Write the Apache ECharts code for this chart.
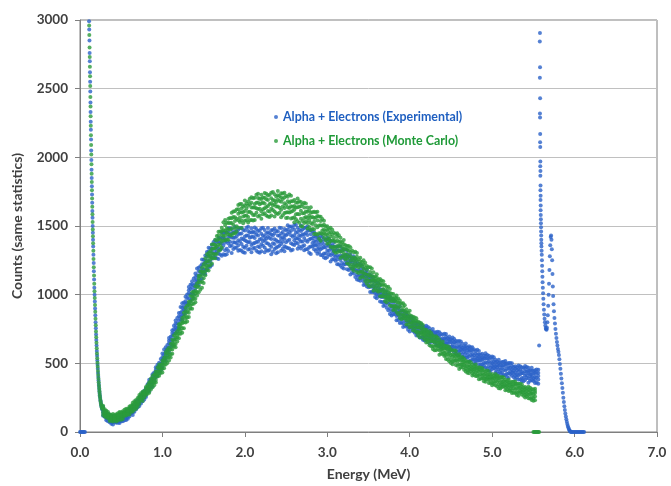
<!DOCTYPE html>
<html>
<head>
<meta charset="utf-8">
<script src="https://cdn.jsdelivr.net/npm/echarts@6/dist/echarts.min.js"></script>
<style>
html,body{margin:0;padding:0;background:#fff;}
#chart{width:671px;height:486px;}
</style>
</head>
<body>
<div id="chart"></div>
<script>
// ---- Data ----
const seriesNames = ['Alpha + Electrons (Experimental)', 'Alpha + Electrons (Monte Carlo)'];
const xTickLabels = ['0.0','1.0','2.0','3.0','4.0','5.0','6.0','7.0'];
const yTickLabels = ['0','500','1000','1500','2000','2500','3000'];

// Experimental: low-energy electron spike [MeV, counts]
const expSpike = [[0.110,2990],[0.112,2930],[0.115,2850],[0.117,2760],[0.119,2700],[0.121,2620],[0.123,2550],[0.125,2480],[0.127,2400],[0.128,2330],[0.130,2260],[0.132,2200],[0.134,2130],[0.136,2050],[0.138,1980],[0.140,1910],[0.142,1850],[0.144,1790],[0.146,1730],[0.148,1670],[0.150,1610],[0.152,1560],[0.154,1500],[0.156,1450],[0.158,1400],[0.160,1350],[0.163,1290],[0.166,1230],[0.168,1170],[0.171,1110],[0.174,1050],[0.177,1000],[0.180,950],[0.183,900],[0.186,850],[0.189,800],[0.192,755],[0.195,710],[0.198,670],[0.201,630],[0.204,590],[0.207,555],[0.210,520],[0.213,490],[0.216,460],[0.219,430],[0.222,400],[0.225,375],[0.228,350],[0.231,328],[0.234,306],[0.237,286],[0.240,268],[0.244,250],[0.248,232],[0.252,215],[0.256,200],[0.260,187],[0.265,175],[0.270,164]];

// Experimental: main band, each row = [MeV, counts...]
const expBand = [
[0.28,119,138,153,167,183],[0.32,97,115,139,85,124],[0.36,116,71,89,105,126],[0.40,72,91,54,112,101],[0.44,90,67,104,79,116],[0.48,66,106,91,116,79],
[0.52,78,95,108,120,133],[0.56,100,118,142,88,127],[0.60,157,112,130,146,167],[0.64,144,167,123,191,179],[0.68,193,165,209,179,223],[0.72,189,236,219,248,205],
[0.76,224,243,258,272,288],[0.80,269,290,318,255,300],[0.84,364,297,324,349,380],[0.88,360,389,333,420,405],[0.92,434,398,454,416,472],[0.96,427,488,466,504,448],
[1.00,470,501,525,547,572],[1.04,540,573,617,518,589],[1.08,665,583,616,646,685],[1.12,665,701,632,740,720],[1.16,765,721,790,743,812],[1.20,755,843,811,866,785],
[1.24,817,852,881,907,937],[1.28,894,933,985,868,952],[1.32,1032,935,974,1010,1055],[1.36,1011,1053,972,1098,1076],[1.40,1100,1048,1129,1074,1155],[1.44,1069,1170,1133,1196,1103],
[1.48,1117,1159,1192,1222,1256],[1.52,1180,1225,1285,1150,1247],[1.56,1314,1202,1247,1288,1341],[1.60,1261,1310,1216,1363,1336],[1.64,1333,1273,1367,1303,1397],[1.68,1260,1381,1336,1413,1300],
[1.72,1284,1334,1374,1410,1450],[1.76,1324,1378,1450,1288,1405],[1.80,1453,1318,1372,1421,1484],[1.84,1358,1416,1304,1479,1448],[1.88,1415,1344,1456,1380,1492],[1.92,1320,1441,1396,1473,1360],
[1.96,1319,1369,1409,1445,1485],[2.00,1342,1396,1468,1306,1423],[2.04,1463,1328,1382,1431,1494],[2.08,1362,1420,1308,1483,1452],[2.12,1412,1341,1453,1377,1489],[2.16,1310,1431,1386,1463,1350],
[2.20,1317,1367,1407,1443,1483],[2.24,1344,1398,1470,1308,1425],[2.28,1454,1319,1373,1422,1485],[2.32,1348,1406,1294,1469,1438],[2.36,1404,1333,1445,1369,1481],[2.40,1309,1430,1385,1462,1349],
[2.44,1319,1369,1409,1445,1485],[2.48,1353,1407,1479,1317,1434],[2.52,1474,1339,1393,1442,1505],[2.56,1375,1433,1321,1496,1465],[2.60,1432,1361,1473,1397,1509],[2.64,1335,1456,1411,1488,1375],
[2.68,1337,1387,1427,1463,1503],[2.72,1359,1413,1485,1323,1440],[2.76,1466,1331,1385,1434,1497],[2.80,1350,1408,1296,1471,1440],[2.84,1391,1331,1425,1361,1455],[2.88,1298,1399,1362,1425,1332],
[2.92,1289,1331,1364,1394,1428],[2.96,1300,1345,1405,1270,1367],[3.00,1387,1275,1320,1361,1414],[3.04,1287,1336,1242,1389,1362],[3.08,1318,1258,1352,1288,1382],[3.12,1222,1323,1286,1349,1256],
[3.16,1211,1253,1286,1316,1350],[3.20,1220,1265,1325,1190,1287],[3.24,1297,1185,1230,1271,1324],[3.28,1191,1240,1146,1293,1266],[3.32,1215,1155,1249,1185,1279],[3.36,1111,1212,1175,1238,1145],
[3.40,1102,1137,1166,1192,1222],[3.44,1097,1136,1188,1071,1155],[3.48,1157,1060,1099,1135,1180],[3.52,1058,1100,1019,1145,1123],[3.56,1071,1019,1100,1045,1126],[3.60,973,1061,1029,1084,1003],
[3.64,951,986,1015,1041,1071],[3.68,944,983,1035,918,1002],[3.72,1001,904,943,979,1024],[3.76,899,941,860,986,964],[3.80,910,858,939,884,965],[3.84,814,902,870,925,844],
[3.88,794,829,858,884,914],[3.92,791,830,882,765,849],[3.96,848,766,799,829,868],[4.00,765,801,732,840,820],[4.04,780,736,805,758,827],[4.08,702,776,749,795,727],
[4.12,689,720,744,766,791],[4.16,694,727,771,672,743],[4.20,753,671,704,734,773],[4.24,680,716,647,755,735],[4.28,703,659,728,681,750],[4.32,633,707,680,726,658],
[4.36,625,656,680,702,727],[4.40,632,665,709,610,681],[4.44,693,611,644,674,713],[4.48,620,656,587,695,675],[4.52,642,598,667,620,689],[4.56,570,644,617,663,595],
[4.60,560,591,615,637,662],[4.64,565,598,642,543,614],[4.68,624,542,575,605,644],[4.72,549,585,516,624,604],[4.76,570,526,595,548,617],[4.80,498,572,545,591,523],
[4.84,488,519,543,565,590],[4.88,493,526,570,471,542],[4.92,553,471,504,534,573],[4.96,480,516,447,555,535],[5.00,503,459,528,481,550],[5.04,433,507,480,526,458],
[5.08,425,456,480,502,527],[5.12,433,466,510,411,482],[5.16,497,415,448,478,517],[5.20,427,463,394,502,482],[5.24,453,409,478,431,500],[5.28,386,460,433,479,411],
[5.32,382,413,437,459,484],[5.36,394,427,471,372,443],[5.40,460,378,411,441,480],[5.44,392,428,359,467,447],[5.48,421,377,446,399,468],[5.52,356,430,403,449,381],
[5.56,352,383,407,429,454]
];
// Experimental: band channels in between
const expBand2 = [
[0.30,111,140,152,123],[0.34,132,100,79,119],[0.38,73,114,92,60],[0.42,96,71,115,82],[0.46,84,108,67,95],[0.50,79,108,120,91],
[0.54,139,107,86,126],[0.58,110,151,129,97],[0.62,159,134,178,145],[0.66,167,195,148,179],[0.70,180,214,228,194],[0.74,270,233,208,254],
[0.78,253,300,274,237],[0.82,324,296,347,308],[0.86,347,383,322,363],[0.90,372,415,433,390],[0.94,489,441,410,468],[0.98,470,531,497,450],
[1.02,565,521,601,540],[1.06,589,633,559,608],[1.10,619,672,694,641],[1.14,773,715,676,748],[1.18,757,831,790,732],[1.22,869,817,911,839],
[1.26,891,943,855,914],[1.30,914,976,1002,940],[1.34,1072,1003,958,1042],[1.38,1029,1117,1068,1000],[1.42,1141,1081,1190,1107],[1.46,1147,1207,1106,1173],
[1.50,1152,1224,1254,1182],[1.54,1311,1232,1179,1277],[1.58,1237,1338,1282,1203],[1.62,1334,1274,1383,1300],[1.66,1315,1387,1265,1347],[1.70,1292,1378,1414,1328],
[1.74,1452,1357,1294,1412],[1.78,1334,1456,1389,1294],[1.82,1426,1353,1484,1385],[1.86,1382,1454,1332,1414],[1.90,1340,1426,1462,1376],[1.94,1483,1388,1325,1443],
[1.98,1348,1470,1403,1308],[2.02,1430,1357,1488,1389],[2.06,1383,1455,1333,1415],[2.10,1337,1423,1459,1373],[2.14,1478,1383,1320,1438],[2.18,1346,1468,1401,1306],
[2.22,1430,1357,1488,1389],[2.26,1376,1448,1326,1408],[2.30,1326,1412,1448,1362],[2.34,1470,1375,1312,1430],[2.38,1342,1464,1397,1302],[2.42,1429,1356,1487,1388],
[2.46,1385,1457,1335,1417],[2.50,1346,1432,1468,1382],[2.54,1494,1399,1336,1454],[2.58,1367,1489,1422,1327],[2.62,1451,1378,1509,1410],[2.66,1401,1473,1351,1433],
[2.70,1352,1438,1474,1388],[2.74,1489,1394,1331,1449],[2.78,1346,1468,1401,1306],[2.82,1411,1351,1460,1377],[2.86,1359,1419,1318,1385],[2.90,1310,1382,1412,1340],
[2.94,1419,1340,1287,1385],[2.98,1299,1400,1344,1265],[3.02,1354,1294,1403,1320],[3.06,1299,1359,1258,1325],[3.10,1247,1319,1349,1277],[3.14,1354,1275,1222,1320],
[3.18,1231,1332,1276,1197],[3.22,1281,1221,1330,1247],[3.26,1220,1280,1179,1246],[3.30,1162,1234,1264,1192],[3.34,1261,1182,1129,1227],[3.38,1135,1223,1174,1106],
[3.42,1171,1119,1213,1141],[3.46,1111,1163,1075,1134],[3.50,1054,1116,1142,1080],[3.54,1133,1064,1019,1103],[3.58,1012,1100,1051,983],[3.62,1045,993,1087,1015],
[3.66,983,1035,947,1006],[3.70,924,986,1012,950],[3.74,1001,932,887,971],[3.78,878,966,917,849],[3.82,911,859,953,881],[3.86,851,903,815,874],
[3.90,795,857,883,821],[3.94,870,812,773,845],[3.98,770,844,803,745],[4.02,800,756,836,775],[4.06,752,796,722,771],[4.10,708,761,783,730],
[4.14,783,725,686,758],[4.18,691,765,724,666],[4.22,729,685,765,704],[4.26,689,733,659,708],[4.30,651,704,726,673],[4.34,730,672,633,705],
[4.38,640,714,673,615],[4.42,679,635,715,654],[4.46,639,683,609,658],[4.50,601,654,676,623],[4.54,678,620,581,653],[4.58,586,660,619,561],
[4.62,623,579,659,598],[4.66,581,625,551,600],[4.70,541,594,616,563],[4.74,618,560,521,593],[4.78,526,600,559,501],[4.82,563,519,599,538],
[4.86,521,565,491,540],[4.90,481,534,556,503],[4.94,560,502,463,535],[4.98,470,544,503,445],[5.02,509,465,545,484],[5.06,469,513,439,488],
[5.10,431,484,506,453],[5.14,512,454,415,487],[5.18,425,499,458,400],[5.22,467,423,503,442],[5.26,430,474,400,449],[5.30,396,449,471,418],
[5.34,479,421,382,454],[5.38,394,468,427,369],[5.42,438,394,474,413],[5.46,404,448,374,423],[5.50,371,424,446,393],[5.54,455,397,358,430]
];

// Experimental: alpha peak region [MeV, counts]
const expAlpha = [[5.570,630],[5.580,2905],[5.578,2843],[5.581,2656],[5.579,2580],[5.582,2430],[5.580,2320],[5.581,2290],[5.583,2170],[5.582,2110],[5.584,2075],[5.585,1970],[5.584,1935],[5.586,1900],[5.585,1865],[5.587,1795],[5.586,1760],[5.588,1720],[5.587,1690],[5.589,1650],[5.588,1615],[5.590,1580],[5.591,1550],[5.592,1520],[5.593,1490],[5.594,1460],[5.595,1430],[5.596,1400],[5.597,1375],[5.598,1350],[5.600,1320],[5.602,1290],[5.604,1250],[5.606,1210],[5.608,1170],[5.610,1130],[5.612,1090],[5.615,1050],[5.618,1010],[5.621,970],[5.624,930],[5.628,890],[5.632,855],[5.636,825],[5.640,800],[5.645,775],[5.650,757],[5.655,748],[5.660,745],[5.665,760],[5.670,800],[5.675,850],[5.680,920],[5.685,1000],[5.690,1080],[5.695,1180],[5.700,1280],[5.705,1360],[5.710,1420],[5.715,1430],[5.720,1400],[5.724,1330],[5.728,1250],[5.732,1150],[5.736,1060],[5.740,990],[5.745,930],[5.750,880],[5.756,830],[5.762,790],[5.768,750],[5.774,715],[5.780,685],[5.786,655],[5.792,630],[5.798,605],[5.804,585],[5.810,560],[5.816,530],[5.822,495],[5.828,460],[5.834,425],[5.840,390],[5.846,355],[5.852,320],[5.858,285],[5.864,250],[5.870,218],[5.876,188],[5.882,160],[5.888,135],[5.894,112],[5.900,92],[5.906,74],[5.912,58],[5.918,44],[5.924,32],[5.930,22],[5.936,14],[5.942,8],[5.948,4],[5.954,2]];

// Experimental: empty channels (counts = 0), energies in MeV
const expZeroEnergy = [0.000,0.010,0.020,0.030,0.040,0.050,0.060,5.960,5.972,5.984,5.996,6.008,6.020,6.032,6.044,6.056,6.068,6.080,6.092,6.104,6.116];

// Monte Carlo: low-energy electron spike [MeV, counts]
const mcSpike = [[0.111,2960],[0.113,2890],[0.116,2800],[0.118,2730],[0.120,2660],[0.122,2590],[0.124,2520],[0.126,2440],[0.128,2370],[0.129,2300],[0.131,2230],[0.133,2160],[0.135,2090],[0.137,2020],[0.139,1950],[0.141,1880],[0.143,1820],[0.145,1760],[0.147,1700],[0.149,1640],[0.151,1585],[0.153,1530],[0.155,1475],[0.157,1425],[0.159,1375],[0.162,1320],[0.164,1260],[0.167,1200],[0.170,1140],[0.173,1080],[0.176,1025],[0.179,975],[0.182,925],[0.185,875],[0.188,825],[0.191,778],[0.194,732],[0.197,690],[0.200,650],[0.203,610],[0.206,572],[0.209,537],[0.212,505],[0.215,475],[0.218,445],[0.221,415],[0.224,388],[0.227,362],[0.230,339],[0.233,317],[0.236,296],[0.239,277],[0.242,259],[0.246,241],[0.250,224],[0.254,208],[0.258,194],[0.263,181],[0.268,170]];

// Monte Carlo: main band, each row = [MeV, counts...]
const mcBand = [
[0.28,144,167,123,191,179],[0.32,129,106,143,118,155],[0.36,80,120,105,130,93],[0.40,76,93,106,118,131],[0.44,88,106,130,76,115],[0.48,136,91,109,125,146],
[0.52,112,131,94,152,141],[0.56,143,120,157,132,169],[0.60,127,174,157,186,143],[0.64,149,168,183,197,213],[0.68,184,205,233,170,215],[0.72,257,205,226,245,270],
[0.76,246,269,225,293,281],[0.80,298,270,314,284,328],[0.84,286,347,325,363,307],[0.88,325,349,369,387,408],[0.92,378,405,441,360,418],[0.96,476,409,436,461,492],
[1.00,460,489,433,520,505],[1.04,535,491,560,513,582],[1.08,521,595,568,614,546],[1.12,570,601,625,647,672],[1.16,640,673,717,618,689],[1.20,765,683,716,746,785],
[1.24,755,791,722,830,810],[1.28,850,798,879,824,905],[1.32,838,926,894,949,868],[1.36,897,932,961,987,1017],[1.40,971,1010,1062,945,1029],[1.44,1115,1018,1057,1093,1138],
[1.48,1096,1145,1051,1198,1171],[1.52,1201,1141,1235,1171,1265],[1.56,1176,1277,1240,1303,1210],[1.60,1227,1269,1302,1332,1366],[1.64,1295,1340,1400,1265,1362],[1.68,1432,1320,1365,1406,1459],
[1.72,1386,1435,1341,1488,1461],[1.76,1466,1395,1507,1431,1543],[1.80,1400,1521,1476,1553,1440],[1.84,1431,1481,1521,1557,1597],[1.88,1482,1536,1608,1446,1563],[1.92,1622,1487,1541,1590,1653],
[1.96,1540,1598,1486,1661,1630],[2.00,1609,1538,1650,1574,1686],[2.04,1526,1647,1602,1679,1566],[2.08,1544,1594,1634,1670,1710],[2.12,1580,1634,1706,1544,1661],[2.16,1704,1569,1623,1672,1735],
[2.20,1607,1665,1553,1728,1697],[2.24,1664,1593,1705,1629,1741],[2.28,1569,1690,1645,1722,1609],[2.32,1576,1626,1666,1702,1742],[2.36,1605,1659,1731,1569,1686],[2.40,1723,1588,1642,1691,1754],
[2.44,1618,1676,1564,1739,1708],[2.48,1666,1595,1707,1631,1743],[2.52,1560,1681,1636,1713,1600],[2.56,1554,1604,1644,1680,1720],[2.60,1564,1618,1690,1528,1645],[2.64,1669,1534,1588,1637,1700],
[2.68,1553,1611,1499,1674,1643],[2.72,1593,1522,1634,1558,1670],[2.76,1482,1603,1558,1635,1522],[2.80,1471,1521,1561,1597,1637],[2.84,1477,1531,1603,1441,1558],[2.88,1572,1437,1491,1540,1603],
[2.92,1447,1505,1393,1568,1537],[2.96,1475,1415,1509,1445,1539],[3.00,1371,1472,1435,1498,1405],[3.04,1349,1391,1424,1454,1488],[3.08,1348,1393,1453,1318,1415],[3.12,1421,1309,1354,1395,1448],
[3.16,1312,1361,1267,1414,1387],[3.20,1334,1274,1368,1304,1398],[3.24,1228,1329,1292,1355,1262],[3.28,1206,1248,1281,1311,1345],[3.32,1204,1249,1309,1174,1271],[3.36,1277,1165,1210,1251,1304],
[3.40,1166,1215,1121,1268,1241],[3.44,1187,1127,1221,1157,1251],[3.48,1081,1182,1145,1208,1115],[3.52,1060,1102,1135,1165,1199],[3.56,1059,1104,1164,1029,1126],[3.60,1125,1028,1067,1103,1148],
[3.64,1027,1069,988,1114,1092],[3.68,1042,990,1071,1016,1097],[3.72,944,1032,1000,1055,974],[3.76,922,957,986,1012,1042],[3.80,914,953,1005,888,972],[3.84,971,874,913,949,994],
[3.88,871,913,832,958,936],[3.92,882,830,911,856,937],[3.96,782,870,838,893,812],[4.00,762,797,826,852,882],[4.04,763,796,840,741,812],[4.08,809,727,760,790,829],
[4.12,723,759,690,798,778],[4.16,733,689,758,711,780],[4.20,651,725,698,744,676],[4.24,631,662,686,708,733],[4.28,627,660,704,605,676],[4.32,678,596,629,659,698],
[4.36,596,632,563,671,651],[4.40,610,566,635,588,657],[4.44,532,606,579,625,557],[4.48,516,547,571,593,618],[4.52,515,548,592,493,564],[4.56,570,488,521,551,590],
[4.60,491,527,458,566,546],[4.64,507,471,527,489,545],[4.68,441,502,480,518,462],[4.72,428,452,472,490,511],[4.76,429,456,492,411,469],[4.80,475,408,435,460,491],
[4.84,412,441,385,472,457],[4.88,427,391,447,409,465],[4.92,365,426,404,442,386],[4.96,357,381,401,419,440],[5.00,359,386,422,341,399],[5.04,407,340,367,392,423],
[5.08,346,375,319,406,391],[5.12,363,327,383,345,401],[5.16,304,365,343,381,325],[5.20,298,322,342,360,381],[5.24,302,329,365,284,342],[5.28,351,284,311,336,367],
[5.32,291,320,264,351,336],[5.36,309,273,329,291,347],[5.40,251,312,290,328,272],[5.44,246,270,290,308,329],[5.48,251,278,314,233,291],[5.52,299,232,259,284,315]
];
// Monte Carlo: band channels in between
const mcBand2 = [
[0.30,125,166,144,112],[0.34,127,102,146,113],[0.38,99,123,82,110],[0.42,83,112,124,95],[0.46,137,105,84,124],[0.50,103,144,122,90],
[0.54,143,118,162,129],[0.58,144,168,127,155],[0.62,145,179,193,159],[0.66,224,187,162,208],[0.70,200,247,221,184],[0.74,260,232,283,244],
[0.78,271,299,252,283],[0.82,279,322,340,297],[0.86,388,340,309,367],[0.90,360,421,387,340],[0.94,441,405,470,420],[0.98,454,490,429,470],
[1.02,465,518,540,487],[1.06,600,542,503,575],[1.10,567,641,600,542],[1.14,666,622,702,641],[1.18,689,733,659,708],[1.22,715,768,790,737],
[1.26,869,800,755,839],[1.30,834,922,873,805],[1.34,951,899,993,921],[1.38,970,1022,934,993],[1.42,994,1056,1082,1020],[1.46,1168,1089,1036,1134],
[1.50,1119,1220,1164,1085],[1.54,1245,1185,1294,1211],[1.58,1256,1316,1215,1282],[1.62,1265,1337,1367,1295],[1.66,1428,1349,1296,1394],[1.70,1359,1460,1404,1325],
[1.74,1469,1396,1527,1428],[1.78,1451,1523,1401,1483],[1.82,1436,1522,1558,1472],[1.86,1605,1510,1447,1565],[1.90,1498,1620,1553,1458],[1.94,1602,1529,1660,1561],
[1.98,1570,1642,1520,1602],[2.02,1541,1627,1663,1577],[2.06,1699,1604,1541,1659],[2.10,1580,1702,1635,1540],[2.14,1670,1597,1728,1629],[2.18,1626,1698,1576,1658],
[2.22,1586,1672,1708,1622],[2.26,1734,1639,1576,1694],[2.30,1606,1728,1661,1566],[2.34,1690,1617,1748,1649],[2.38,1642,1714,1592,1674],[2.42,1596,1682,1718,1632],
[2.46,1737,1642,1579,1697],[2.50,1599,1721,1654,1559],[2.54,1672,1599,1730,1631],[2.58,1609,1681,1559,1641],[2.62,1549,1635,1671,1585],[2.66,1681,1586,1523,1641],
[2.70,1537,1659,1592,1497],[2.74,1606,1533,1664,1565],[2.78,1542,1614,1492,1574],[2.82,1479,1565,1601,1515],[2.86,1601,1506,1443,1561],[2.90,1448,1570,1503,1408],
[2.94,1502,1442,1551,1468],[2.98,1438,1498,1397,1464],[3.02,1377,1449,1479,1407],[3.06,1473,1394,1341,1439],[3.10,1340,1441,1385,1306],[3.14,1384,1324,1433,1350],
[3.18,1320,1380,1279,1346],[3.22,1258,1330,1360,1288],[3.26,1355,1276,1223,1321],[3.30,1221,1322,1266,1187],[3.34,1263,1203,1312,1229],[3.38,1198,1258,1157,1224],
[3.42,1135,1207,1237,1165],[3.46,1232,1153,1100,1198],[3.50,1099,1200,1144,1065],[3.54,1142,1082,1191,1108],[3.58,1079,1131,1043,1102],[3.62,1022,1084,1110,1048],
[3.66,1103,1034,989,1073],[3.70,983,1071,1022,954],[3.74,1016,964,1058,986],[3.78,954,1006,918,977],[3.82,894,956,982,920],[3.86,972,903,858,942],
[3.90,850,938,889,821],[3.94,881,829,923,851],[3.98,819,871,783,842],[4.02,769,822,844,791],[4.06,834,776,737,809],[4.10,730,804,763,705],
[4.14,756,712,792,731],[4.18,703,747,673,722],[4.22,653,706,728,675],[4.26,721,663,624,696],[4.30,620,694,653,595],[4.34,650,606,686,625],
[4.38,601,645,571,620],[4.42,554,607,629,576],[4.46,625,567,528,600],[4.50,527,601,560,502],[4.54,559,515,595,534],[4.58,513,557,483,532],
[4.62,469,522,544,491],[4.66,533,485,454,512],[4.70,451,512,478,431],[4.74,478,442,507,457],[4.78,441,477,416,457],[4.82,406,449,467,424],
[4.86,467,419,388,446],[4.90,389,450,416,369],[4.94,418,382,447,397],[4.98,382,418,357,398],[5.02,349,392,410,367],[5.06,412,364,333,391],
[5.10,336,397,363,316],[5.14,367,331,396,346],[5.18,333,369,308,349],[5.22,301,344,362,319],[5.26,365,317,286,344],[5.30,290,351,317,270],
[5.34,322,286,351,301],[5.38,289,325,264,305],[5.42,258,301,319,276],[5.46,323,275,244,302],[5.50,248,309,275,228]
];

// Monte Carlo: empty channels (counts = 0), energies in MeV
const mcZeroEnergy = [5.500,5.510,5.520,5.530,5.540,5.550,5.560,5.570];

// ---- Build series data (reshaping only) ----
function bandPoints(rows){ const p=[]; rows.forEach(r=>{ for(let i=1;i<r.length;i++) p.push([r[0], r[i]]); }); return p; }
function zeroPoints(es){ return es.map(e=>[e,0]); }

const expData = zeroPoints(expZeroEnergy).concat(expSpike, bandPoints(expBand), bandPoints(expBand2), expAlpha);
const mcData = zeroPoints(mcZeroEnergy).concat(mcSpike, bandPoints(mcBand), bandPoints(mcBand2));

const BLUE = '#2a62c8';
const GREEN = '#2a9b3b';
const FONT = 'Lato, "Open Sans", sans-serif';

const chart = echarts.init(document.getElementById('chart'), null, {renderer:'canvas'});
chart.setOption({
  animation: false,
  backgroundColor: '#ffffff',
  grid: { left: 80, right: 14, top: 20, bottom: 51, show: true, borderColor: '#7f7f7f', borderWidth: 1 },
  legend: {
    orient: 'vertical', left: 269, top: 106, itemGap: 12,
    itemWidth: 4, itemHeight: 4, icon: 'circle',
    textStyle: { fontFamily: FONT, fontWeight: 'bold', fontSize: 12.4 },
    data: [
      { name: seriesNames[0], textStyle: { color: '#1f5fc0' } },
      { name: seriesNames[1], textStyle: { color: '#1f9a38' } }
    ]
  },
  xAxis: {
    type: 'value', min: 0, max: 7, interval: 1,
    name: 'Energy (MeV)', nameLocation: 'middle', nameGap: 35,
    nameTextStyle: { fontFamily: FONT, fontWeight: 'bold', fontSize: 14, color: '#404040' },
    axisLine: { show: true, lineStyle: { color: '#7f7f7f', width: 1 } },
    axisTick: { show: true, length: 5, lineStyle: { color: '#7f7f7f' } },
    axisLabel: { margin: 14, fontFamily: FONT, fontWeight: 'bold', fontSize: 13.5, color: '#404040',
      formatter: v => xTickLabels[Math.round(v)] },
    splitLine: { show: false }
  },
  yAxis: {
    type: 'value', min: 0, max: 3000, interval: 500,
    name: 'Counts (same statistics)', nameLocation: 'middle', nameGap: 56,
    nameTextStyle: { fontFamily: FONT, fontWeight: 'bold', fontSize: 14, color: '#404040' },
    axisLine: { show: true, lineStyle: { color: '#7f7f7f', width: 1 } },
    axisTick: { show: true, length: 5, lineStyle: { color: '#7f7f7f' } },
    axisLabel: { margin: 12, fontFamily: FONT, fontWeight: 'bold', fontSize: 13.5, color: '#404040',
      formatter: v => yTickLabels[Math.round(v/500)] },
    splitLine: { show: true, lineStyle: { color: '#c0c0c0', width: 1 } }
  },
  series: [
    { name: seriesNames[0], type: 'scatter', data: expData, symbol: 'circle', symbolSize: 4,
      itemStyle: { color: BLUE }, clip: true },
    { name: seriesNames[1], type: 'scatter', data: mcData, symbol: 'circle', symbolSize: 4,
      itemStyle: { color: GREEN }, clip: true }
  ]
});
</script>
</body>
</html>
